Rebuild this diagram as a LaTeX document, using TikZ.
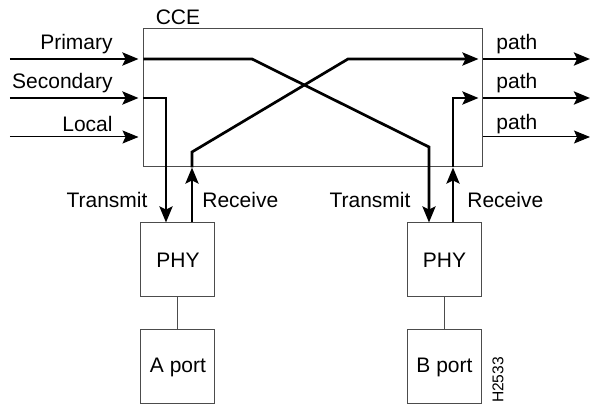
\documentclass[tikz,border=0pt]{standalone}
\usepackage{fontspec}
\setmainfont{Liberation Sans}
\usetikzlibrary{arrows.meta,positioning}

\begin{document}
\begin{tikzpicture}[x=0.5pt, y=-0.5pt, font=\fontsize{10.5}{12}\selectfont,
  box/.style={draw=black!70, line width=0.5pt, minimum width=37pt, minimum height=37pt, inner sep=0pt},
  lbl/.style={inner sep=0pt},
  sig/.style={line width=1.35pt},
  weak/.style={line width=0.5pt},
  tip/.style={-{Stealth[length=8pt,width=6.5pt,inset=1.5pt]}}]
\useasboundingbox (0,0) rectangle (591,406);
% CCE box
\node[box, minimum width=169.5pt, minimum height=69pt] (cce) at (313.5,98) {};
\node[lbl] (ccelbl) at (178,17) {CCE};
% PHYs and ports
\node[box] (phyA) at (178,260) {PHY};
\node[box, below=16pt of phyA] (portA) {A port};
\node[box] (phyB) at (444.5,260) {PHY};
\node[box, below=16pt of phyB] (portB) {B port};
\draw[weak, black!70] (phyA) -- (portA);
\draw[weak, black!70] (phyB) -- (portB);
% end points
\coordinate (pri) at (10,59);
\coordinate (sec) at (10,98);
\coordinate (loc) at (10,137);
\coordinate (out1) at (590,59);
\coordinate (out2) at (590,98);
\coordinate (out3) at (590,137);
\coordinate (txA) at ([xshift=-6pt]phyA.north);
\coordinate (rxA) at ([xshift=7pt]phyA.north);
\coordinate (txB) at ([xshift=-7.75pt]phyB.north);
\coordinate (rxB) at ([xshift=4.25pt]phyB.north);
% inputs
\draw[sig, tip, shorten >=2.5pt] (pri) -- (pri -| cce.west);
\draw[sig, tip, shorten >=2.5pt] (sec) -- (sec -| cce.west);
\draw[weak, tip, shorten >=2.5pt] (loc) -- (loc -| cce.west);
% primary -> B, secondary -> A
\draw[sig, tip] (pri -| cce.west) -- (252,59) -- (429,147) -- (txB);
\draw[sig, tip] (sec -| cce.west) -- (txA |- sec) -- (txA);
% receive A -> top path
\draw[sig, tip] (rxA) -- (rxA |- cce.south);
\draw[sig, tip, shorten >=2.5pt] (rxA |- cce.south) -- (192,152) -- (348,59) -- (out1 -| cce.east);
\draw[sig, tip] (out1 -| cce.east) -- (out1);
% receive B -> middle path
\draw[sig, tip] (rxB) -- (rxB |- cce.south);
\draw[sig, tip, shorten >=2.5pt] (rxB |- cce.south) -- (rxB |- out2) -- (out2 -| cce.east);
\draw[sig, tip] (out2 -| cce.east) -- (out2);
\draw[weak, tip] (out3 -| cce.east) -- (out3);
% labels
\node[lbl, anchor=east] (lpri) at (113,44) {Primary};
\node[lbl, anchor=east] (lsec) at (113,83) {Secondary};
\node[lbl, anchor=east] (lloc) at (113,124) {Local};
\node[lbl, anchor=west] (lout1) at (496,44) {path};
\node[lbl, anchor=west] (lout2) at (496,83) {path};
\node[lbl, anchor=west] (lout3) at (496,124) {path};
\node[lbl] (ltxA) at (107,200) {Transmit};
\node[lbl, anchor=west] (lrxA) at (202,200) {Receive};
\node[lbl] (ltxB) at (370,200) {Transmit};
\node[lbl, anchor=west] (lrxB) at (467,200) {Receive};
\node[rotate=90, font=\fontsize{7.8}{9}\selectfont] (fig) at (498,380) {H2533};
\end{tikzpicture}
\end{document}
